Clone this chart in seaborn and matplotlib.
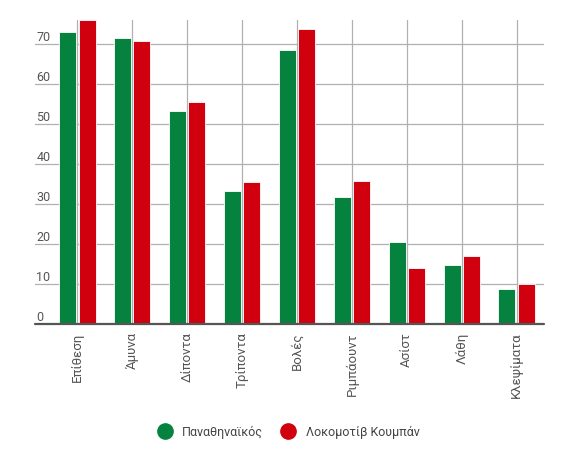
import matplotlib
matplotlib.use("Agg")
import matplotlib.pyplot as plt
from matplotlib.lines import Line2D
import seaborn as sns
import pandas as pd

categories = ["Επίθεση", "Άμυνα", "Δίποντα", "Τρίποντα", "Βολές",
              "Ριμπάουντ", "Ασίστ", "Λάθη", "Κλεψίματα"]
team_a = "Παναθηναϊκός"
team_b = "Λοκομοτίβ Κουμπάν"
values_a = [73.1, 71.5, 53.3, 33.2, 68.4, 31.7, 20.5, 14.7, 8.7]
values_b = [75.9, 70.8, 55.5, 35.6, 73.8, 35.8, 14.1, 16.9, 9.9]
y_ticks = [0, 10, 20, 30, 40, 50, 60, 70]

green = "#06823f"
red = "#d1000e"

df = pd.DataFrame({
    "cat": categories * 2,
    "team": [team_a] * len(categories) + [team_b] * len(categories),
    "value": values_a + values_b,
})

sns.set_theme(style="white")
plt.rcParams["font.family"] = ["Roboto", "DejaVu Sans"]

fig = plt.figure(figsize=(5.8, 4.49), dpi=100)
W, H = 580, 449
left_px, right_px, top_px, bot_px = 35, 544, 20, 324
ax = fig.add_axes([left_px / W, 1 - bot_px / H, (right_px - left_px) / W, (bot_px - top_px) / H])

sns.barplot(data=df, x="cat", y="value", hue="team", order=categories,
            hue_order=[team_a, team_b], palette=[green, red], saturation=1,
            width=0.7, gap=0.12, edgecolor="white", linewidth=0.6,
            legend=False, ax=ax, zorder=3)

cat_px = (right_px - 50) / len(categories)
ax.set_xlim(-0.5 - (50 - left_px) / cat_px, len(categories) - 0.5)
ax.set_ylim(0, 76)

for s in ax.spines.values():
    s.set_visible(False)

# grid
ax.set_axisbelow(True)
ax.yaxis.grid(True, color="#b0b0b0", lw=0.9)
ax.xaxis.grid(True, color="#b0b0b0", lw=0.9)
ax.axhline(0, color="#555555", lw=1.6, zorder=4, clip_on=False)

# y ticks: labels sitting above gridlines, inside left
ax.set_yticks(y_ticks)
ax.set_yticklabels([str(v) for v in y_ticks])
ax.tick_params(axis="y", length=0, pad=-1, labelsize=9, labelcolor="#555555")
for lbl in ax.get_yticklabels():
    lbl.set_horizontalalignment("left")
    lbl.set_verticalalignment("bottom")

# x ticks: category labels rotated, separators as minor ticks
ax.set_xticks(range(len(categories)))
ax.set_xticklabels(categories, rotation=90, va="top", ha="center")
ax.tick_params(axis="x", which="major", length=0, pad=6, labelsize=9.5, labelcolor="#555555")
ax.set_xticks([i - 0.5 for i in range(len(categories) + 1)], minor=True)
ax.tick_params(axis="x", which="minor", length=53, width=0.9, color="#6a6a6a", direction="out")
ax.set_xlabel("")
ax.set_ylabel("")

handles = [Line2D([], [], marker="o", ls="", markersize=11, color=green),
           Line2D([], [], marker="o", ls="", markersize=11, color=red)]
fig.legend(handles, [team_a, team_b], loc="center", bbox_to_anchor=(0.493, 0.038),
           ncol=2, frameon=False, fontsize=9, handletextpad=0.4, columnspacing=1.0,
           labelcolor="#444444")

fig.savefig("out.png", dpi=100)
